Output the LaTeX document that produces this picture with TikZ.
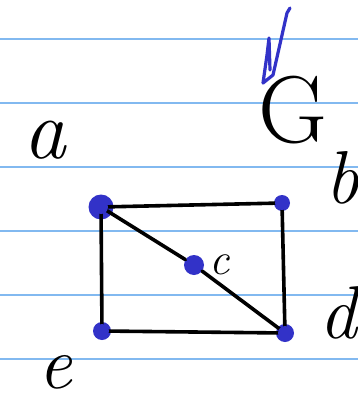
\documentclass[tikz,border=0pt]{standalone}
\usetikzlibrary{positioning}
\definecolor{ruled}{RGB}{130,185,240}
\definecolor{inkblue}{RGB}{50,50,200}
\tikzset{
    dot/.style={circle,fill=inkblue,inner sep=0pt,minimum size=#1},
    ink/.style={black,line width=3.6pt,line cap=round,line join=round},
    letter/.style={font=\fontsize{#1}{#1}\selectfont\itshape,inner sep=0pt}
}
\begin{document}
\begin{tikzpicture}[x=1pt,y=-1pt]
    \useasboundingbox (0,0) rectangle (358,405);
    \fill[white] (0,0) rectangle (358,405);
    % paper lines
    \foreach \y in {39,103,167,231,295,359}
        \draw[ruled,line width=1.3pt] (0,\y) -- (358,\y);
    % corners and middle
    \node[dot=25pt] (tl) at (101,207) {};
    \node[dot=16pt] (tr) at (282,203) {};
    \node[dot=18pt] (bl) at (102,331) {};
    \node[dot=18pt] (br) at (285,333) {};
    \node[dot=20pt] (mid) at (194,265) {};
    \draw[ink] (tl.center) -- (tr.center) -- (br.center) -- (bl.center) -- cycle;
    \draw[ink] (tl.center) -- (mid) -- (br.center);
    \foreach \n in {tl,tr,bl,br,mid}
        \fill[inkblue] (\n) circle (7);
    % labels
    \node[letter=85] (la) at (45,140) {a};
    \node[letter=75] (lb) at (342,178) {b};
    \node[letter=45,right=5pt of mid] (lc) {c};
    \node[letter=75] (ld) at (338,313) {d};
    \node[letter=75] (le) at (55,372) {e};
    \node[letter=95,font=\fontsize{95}{95}\selectfont] (lg) at (293,110) {G};
    % blue stroke
    \draw[inkblue,line width=3.2pt,line cap=round,line join=round]
        (290,8) -- (287,13) -- (273,75) -- (263,83) -- (267,55) -- (269,38) -- (270,70);
\end{tikzpicture}
\end{document}
